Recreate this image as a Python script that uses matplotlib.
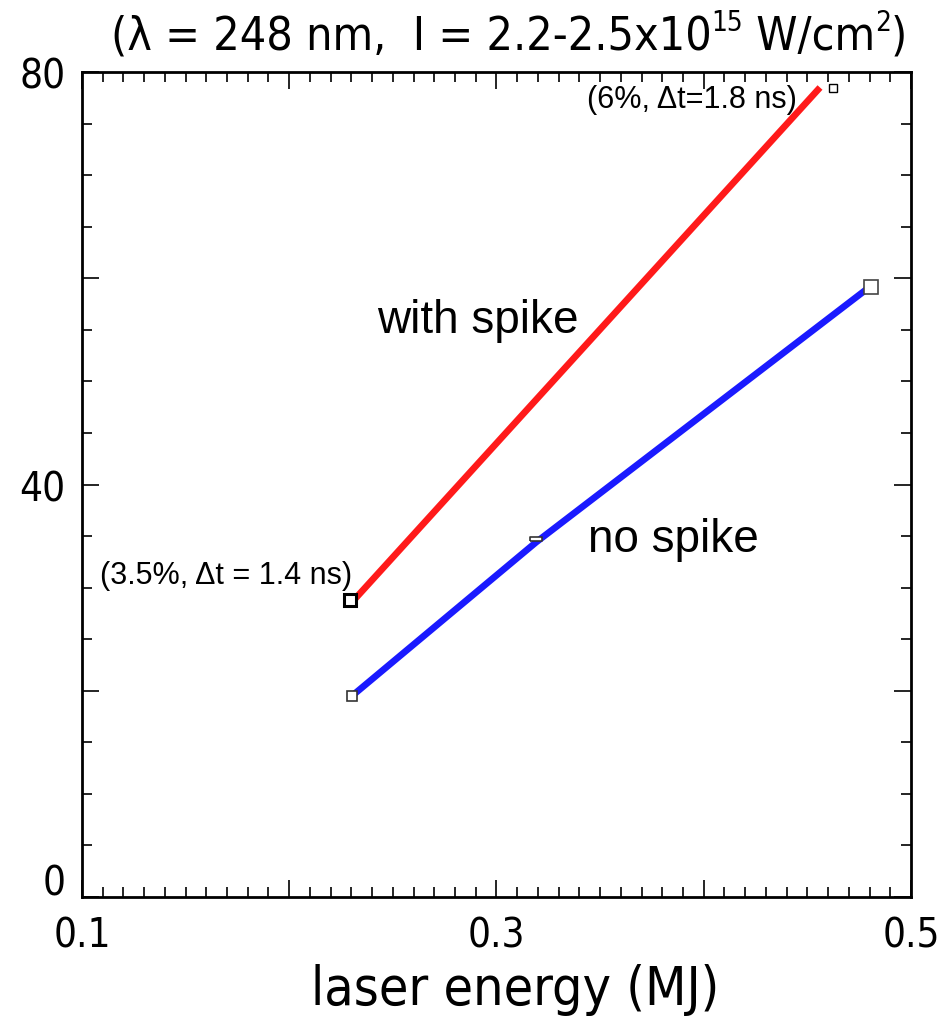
import matplotlib
matplotlib.use("Agg")
import matplotlib.pyplot as plt
from matplotlib import font_manager
from matplotlib.ticker import MultipleLocator, FixedLocator
import matplotlib.transforms as mtransforms

REG = "Liberation Sans"
narrow_path = None
cands = []
for f in font_manager.fontManager.ttflist:
    fn = f.fname.lower()
    if ("narrow" in fn or "condensed" in fn) and "bold" not in fn and "italic" not in fn \
            and "oblique" not in fn and "mono" not in fn and "serif" not in fn.replace("sans", ""):
        cands.append(f.fname)
for pref in ["liberationsansnarrow-regular", "sansnarrow", "dejavusanscondensed.ttf", "condensed"]:
    for c in cands:
        if pref in c.lower():
            narrow_path = c
            break
    if narrow_path:
        break


def fp(size, narrow=True):
    if narrow and narrow_path:
        return font_manager.FontProperties(fname=narrow_path, size=size)
    return font_manager.FontProperties(family=[REG, "DejaVu Sans"], size=size)


# ---- data ----
with_spike_x = [0.2317, 0.4561]
with_spike_y = [28.9, 78.5]
with_spike_mx = [0.2293, 0.4624]
with_spike_my = [28.8, 78.5]

no_spike_x = [0.2303, 0.3191, 0.4790]
no_spike_y = [19.5, 34.4, 59.0]
no_spike_mx = [0.2303, 0.4807]
no_spike_my = [19.5, 59.2]
no_spike_mid_x = [0.3191]
no_spike_mid_y = [34.7]

xticks_major = [0.1, 0.2, 0.3, 0.4, 0.5]
xtick_labels = ["0.1", "", "0.3", "", "0.5"]
yticks_major = [0, 20, 40, 60, 80]
ytick_labels = ["0", "", "40", "", "80"]

fig = plt.figure(figsize=(9.41, 10.2), dpi=100)
ax = fig.add_axes([0.0871, 0.1196, 0.881, 0.8088])

ax.plot(with_spike_x, with_spike_y, color="#ff1a1a", lw=4.8, solid_capstyle="butt", zorder=3)
ax.plot(no_spike_x, no_spike_y, color="#1a1aff", lw=4.8, solid_capstyle="butt", zorder=3)

ax.plot(with_spike_mx[1:], with_spike_my[1:], ls="none", marker="s", ms=5.5,
        mfc="white", mec="black", mew=1.0, zorder=4)
ax.plot(with_spike_mx[:1], with_spike_my[:1], ls="none", marker="s", ms=8,
        mfc="white", mec="black", mew=2.2, zorder=4)
ax.plot(no_spike_mx[:1], no_spike_my[:1], ls="none", marker="s", ms=6.5,
        mfc="white", mec="#333333", mew=1.2, zorder=4)
ax.plot(no_spike_mx[1:], no_spike_my[1:], ls="none", marker="s", ms=9.5,
        mfc="white", mec="#444444", mew=1.2, zorder=4)
rect = [(-1.2, -0.45), (1.2, -0.45), (1.2, 0.45), (-1.2, 0.45), (-1.2, -0.45)]
ax.plot(no_spike_mid_x, no_spike_mid_y, ls="none", marker=rect, ms=9,
        mfc="white", mec="#333333", mew=1.2, zorder=4)

ax.set_xlim(0.1, 0.5)
ax.set_ylim(0, 80)
ax.xaxis.set_major_locator(FixedLocator(xticks_major))
ax.xaxis.set_minor_locator(MultipleLocator(0.01))
ax.yaxis.set_major_locator(FixedLocator(yticks_major))
ax.yaxis.set_minor_locator(MultipleLocator(5))
ax.set_xticklabels(xtick_labels)
ax.set_yticklabels(ytick_labels)

ax.tick_params(which="both", direction="in", top=True, right=True, width=1.2, colors="black")
ax.tick_params(which="major", length=12)
ax.tick_params(which="minor", length=7)
ax.tick_params(axis="x", which="major", pad=13)
ax.tick_params(axis="y", which="major", pad=12)
for lab in ax.get_xticklabels() + ax.get_yticklabels():
    lab.set_fontproperties(fp(29))
for sp in ax.spines.values():
    sp.set_linewidth(2.0)

fig.canvas.draw()
lab0 = ax.get_yticklabels()[0]
lab0.set_transform(lab0.get_transform() + mtransforms.ScaledTranslation(0, 18 / 100, fig.dpi_scale_trans))

ax.text(0.2911, 56.0, "with spike", fontproperties=fp(33, narrow=False), ha="center", va="center")
ax.text(0.3852, 34.7, "no spike", fontproperties=fp(33, narrow=False), ha="center", va="center")
ax.text(0.1695, 31.2, "(3.5%, Δt = 1.4 ns)", fontproperties=fp(22, narrow=False), ha="center", va="center")
ax.text(0.3943, 77.4, "(6%, Δt=1.8 ns)", fontproperties=fp(22, narrow=False), ha="center", va="center")

# title built from pieces so the superscripts are small and slightly raised
renderer = fig.canvas.get_renderer()


def build_title(tsize, measure_only=False):
    ssize = tsize * 0.6
    pieces = [("(λ = 248 nm,  I = 2.2-2.5x10", tsize, 0), ("15", ssize, 0.40),
              (" W/cm", tsize, 0), ("2", ssize, 0.40), (")", tsize, 0)]
    widths = []
    for s, size, _ in pieces:
        t = fig.text(0, 0, s, fontproperties=fp(size))
        widths.append(t.get_window_extent(renderer).width)
        t.remove()
    return pieces, widths


target = 798.0
tsize = 34.0
pieces, widths = build_title(tsize)
tsize = tsize * target / sum(widths)
pieces, widths = build_title(tsize)
x0 = 509 - sum(widths) / 2
y0 = 1020 - 50
for (s, size, rise), w in zip(pieces, widths):
    fig.text(x0 / 941, (y0 + rise * tsize * 100 / 72) / 1020, s, fontproperties=fp(size),
             ha="left", va="baseline")
    x0 += w

fig.text(0.547, 0.029, "laser energy (MJ)", fontproperties=fp(38.5 if narrow_path else 37),
         ha="center", va="center")

fig.savefig("out.png", dpi=100)
